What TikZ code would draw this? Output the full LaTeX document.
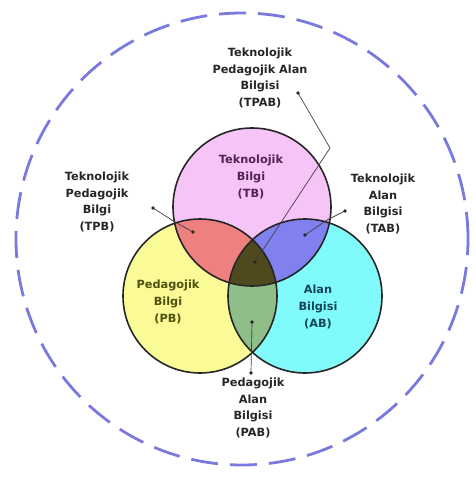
\documentclass[tikz,border=0pt]{standalone}
\usepackage{fontspec}
\setmainfont{DejaVu Sans}
\usetikzlibrary{calc}

\definecolor{tbfill}{RGB}{246,196,246}
\definecolor{pbfill}{RGB}{250,250,150}
\definecolor{abfill}{RGB}{128,250,250}
\definecolor{tpfill}{RGB}{238,128,128}
\definecolor{tafill}{RGB}{128,128,238}
\definecolor{pafill}{RGB}{144,190,136}
\definecolor{tpafill}{RGB}{78,74,30}
\definecolor{rimblue}{RGB}{122,122,222}
\definecolor{tbtext}{RGB}{80,36,84}
\definecolor{pbtext}{RGB}{80,80,16}
\definecolor{abtext}{RGB}{20,70,90}

\begin{document}
\begin{tikzpicture}[%
x=1pt, y=-1pt,
lbl/.style={font=\bfseries\fontsize{11.3}{16.8}\selectfont, align=center, text=black!85},
ring/.style={draw=black!85, line width=1.6pt},
pointer/.style={draw=black!75, line width=0.7pt},
tipdot/.style={fill=black!85},
]
\useasboundingbox (0,0) rectangle (476,477);
%% outer dashed circle;
\draw [rimblue, line width=2.8pt, dash pattern=on 27pt off 12pt] (242,239) circle (226pt);
%% circle centres;
\coordinate (T) at (252,207);
\coordinate (P) at (200,296);
\coordinate (A) at (305,296);
%% fills;
\fill [tbfill] (T) circle (79pt);
\fill [pbfill] (P) circle (77pt);
\fill [abfill] (A) circle (77pt);
\begin{scope}
\clip (T) circle (79pt);
\fill [tpfill] (P) circle (77pt);
\fill [tafill] (A) circle (77pt);
\end{scope}
\begin{scope}
\clip (P) circle (77pt);
\fill [pafill] (A) circle (77pt);
\end{scope}
\begin{scope}
\clip (T) circle (79pt);
\clip (P) circle (77pt);
\fill [tpafill] (A) circle (77pt);
\end{scope}
%% outlines;
\draw [ring] (T) circle (79pt);
\draw [ring] (P) circle (77pt);
\draw [ring] (A) circle (77pt);
%% labels inside;
\node [lbl, text=tbtext] (tb) at (251,177) {Teknolojik\\Bilgi\\(TB)};
\node [lbl, text=pbtext] (pb) at (168,302) {Pedagojik\\Bilgi\\(PB)};
\node [lbl, text=abtext] (ab) at (318,307) {Alan\\Bilgisi\\(AB)};
%% labels outside;
\node [lbl] (tpab) at (260,78) {Teknolojik\\Pedagojik Alan\\Bilgisi\\(TPAB)};
\node [lbl] (tpb) at (97,202) {Teknolojik\\Pedagojik\\Bilgi\\(TPB)};
\node [lbl] (tab) at (383,204) {Teknolojik\\Alan\\Bilgisi\\(TAB)};
\node [lbl] (pab) at (253,408) {Pedagojik\\Alan\\Bilgisi\\(PAB)};
%% pointer points;
\coordinate (tpabS) at (298,93);
\coordinate (tpabK) at (330,148);
\coordinate (tpabE) at (255,262);
\coordinate (tpbS) at (153,208);
\coordinate (tpbK) at (175,222);
\coordinate (tpbE) at (193,232);
\coordinate (tabS) at (345,211);
\coordinate (tabK) at (327,220);
\coordinate (tabE) at (305,235);
\coordinate (pabS) at (251,373);
\coordinate (pabE) at (252,322);
%% pointers;
\draw [pointer] (tpabS) -- (tpabK) -- (tpabE);
\draw [pointer] (tpbS) -- (tpbK) -- (tpbE);
\draw [pointer] (tabS) -- (tabK) -- (tabE);
\draw [pointer] (pabS) -- (pabE);
\foreach \d in {tpabS,tpabE,tpbS,tpbE,tabS,tabE,pabS,pabE}
  \fill [tipdot] (\d) circle (1.8pt);
\end{tikzpicture}
\end{document}
